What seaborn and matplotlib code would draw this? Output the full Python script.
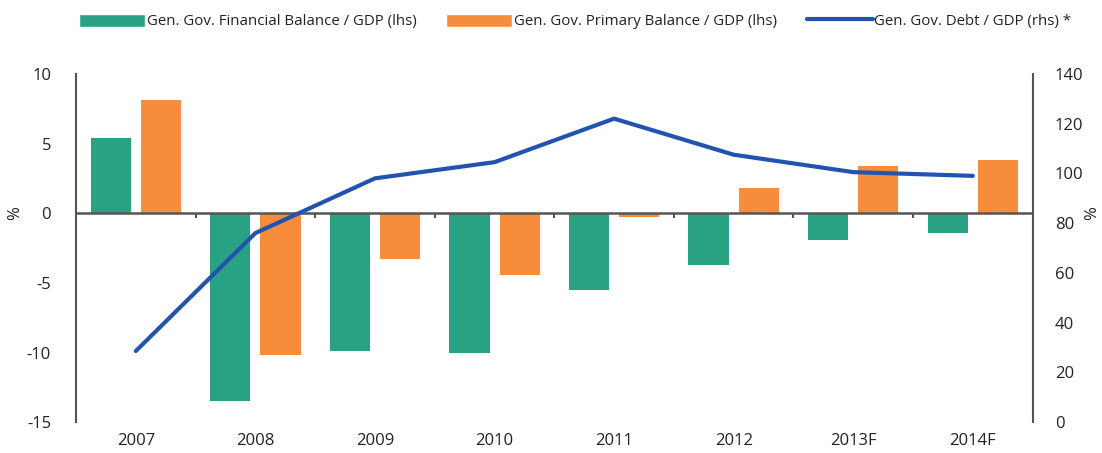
import matplotlib
matplotlib.use("Agg")
import matplotlib.pyplot as plt
import numpy as np
import pandas as pd
import seaborn as sns
from matplotlib.lines import Line2D
from matplotlib.patches import Patch

years = ["2007", "2008", "2009", "2010", "2011", "2012", "2013F", "2014F"]
fin_balance = [5.4, -13.5, -9.9, -10.05, -5.5, -3.75, -1.9, -1.45]
prim_balance = [8.1, -10.2, -3.3, -4.45, -0.3, 1.8, 3.4, 3.8]
debt = [28.6, 76.0, 98.0, 104.5, 122.0, 107.5, 100.5, 99.0]

fin_label = "Gen. Gov. Financial Balance / GDP (lhs)"
prim_label = "Gen. Gov. Primary Balance / GDP (lhs)"
debt_label = "Gen. Gov. Debt / GDP (rhs) *"

GREEN = "#29a283"
ORANGE = "#f58d3d"
BLUE = "#2253b0"
AXIS = "#555555"
TEXT = "#222222"

sns.set_style("white")
plt.rcParams["font.family"] = ["Open Sans", "DejaVu Sans"]
plt.rcParams["axes.unicode_minus"] = False

df = pd.DataFrame({
    "year": years * 2,
    "value": fin_balance + prim_balance,
    "series": [fin_label] * len(years) + [prim_label] * len(years),
})

fig = plt.figure(figsize=(11.02, 4.53), dpi=100)
ax = fig.add_axes([0.069, 0.068, 0.868, 0.769])

sns.barplot(data=df, x="year", y="value", hue="series", order=years,
            palette=[GREEN, ORANGE], saturation=1, width=0.84, gap=0.2,
            ax=ax, legend=False, errorbar=None, linewidth=0)

ax.set_xlim(-0.5, len(years) - 0.5)
ax.set_ylim(-15, 10)
ax.set_yticks([-15, -10, -5, 0, 5, 10])
ax.set_xlabel("")
ax.set_ylabel("")
ax.axhline(0, color=AXIS, lw=1.8, zorder=3)
# small separator ticks hanging below the zero line
ax.vlines(np.arange(len(years) - 1) + 0.5, -0.35, 0, color=AXIS, lw=1.5, zorder=3)

for side in ["top", "right", "bottom"]:
    ax.spines[side].set_visible(False)
ax.spines["left"].set_color(AXIS)
ax.spines["left"].set_linewidth(1.5)
ax.tick_params(axis="both", length=0, labelsize=12, colors=TEXT)
ax.tick_params(axis="y", pad=18)
ax.tick_params(axis="x", pad=8)

# "%" unit labels sit level with the zero line on both sides
ax.text(-0.064, 0, "%", transform=ax.get_yaxis_transform(), rotation=90,
        ha="center", va="center", fontsize=12, color=TEXT)
ax.text(1.062, 0, "%", transform=ax.get_yaxis_transform(), rotation=90,
        ha="center", va="center", fontsize=12, color=TEXT)

ax2 = ax.twinx()
sns.lineplot(x=np.arange(len(years)), y=debt, ax=ax2, color=BLUE, lw=3,
             solid_capstyle="round")
ax2.set_ylim(0, 140)
ax2.set_yticks(range(0, 141, 20))
ax2.set_xlim(-0.5, len(years) - 0.5)
for side in ["top", "left", "bottom"]:
    ax2.spines[side].set_visible(False)
ax2.spines["right"].set_color(AXIS)
ax2.spines["right"].set_linewidth(1.5)
ax2.tick_params(axis="y", length=0, labelsize=12, colors=TEXT, pad=16)

handles = [
    Patch(facecolor=GREEN, label=fin_label),
    Patch(facecolor=ORANGE, label=prim_label),
    Line2D([0], [0], color=BLUE, lw=3, label=debt_label),
]
fig.legend(handles=handles, loc="upper center", bbox_to_anchor=(0.522, 1.0),
           ncol=3, frameon=False, fontsize=10.8, handlelength=4.4,
           handleheight=1.0, handletextpad=0.1, columnspacing=2.0,
           labelcolor=TEXT)

fig.savefig("out.png", dpi=100)
